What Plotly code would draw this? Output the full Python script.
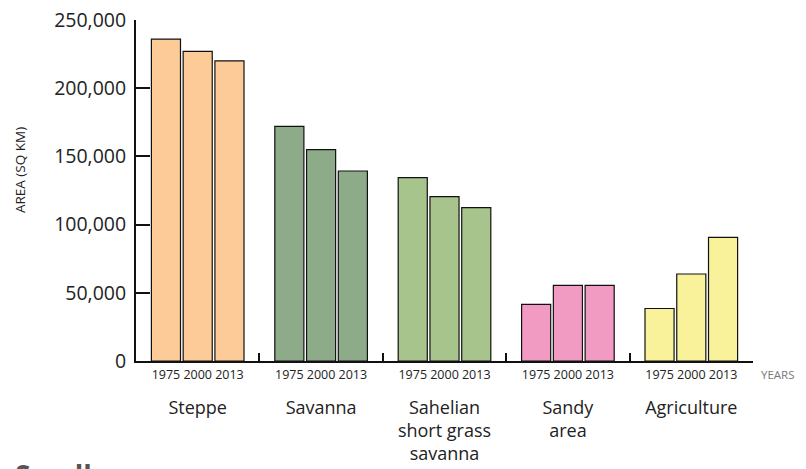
import plotly.graph_objects as go

categories = ["Steppe", "Savanna", "Sahelian<br>short grass<br>savanna", "Sandy<br>area", "Agriculture"]
years = ["1975", "2000", "2013"]
colors = ["#FCCB98", "#8DAB88", "#A8C48D", "#F29BC2", "#F9F29A"]

area_1975 = [236000, 172000, 134500, 41500, 38500]
area_2000 = [227000, 155000, 120500, 55500, 63800]
area_2013 = [220000, 139300, 112400, 55500, 90700]
series = [area_1975, area_2000, area_2013]

y_ticks = [0, 50000, 100000, 150000, 200000, 250000]

font = "Open Sans"
bargap = 0.228

fig = go.Figure()
for yr, vals in zip(years, series):
    fig.add_trace(go.Bar(
        x=categories, y=vals, name=yr,
        marker=dict(color=colors, line=dict(color="#111", width=1.2)),
        showlegend=False, hoverinfo="skip",
    ))

# year labels under each bar, on a second x axis sharing the same scale
n = len(years)
slot = (1 - bargap) / n
year_pos, year_txt = [], []
for i in range(len(categories)):
    for j, yr in enumerate(years):
        year_pos.append(i + (j - (n - 1) / 2) * slot)
        year_txt.append(yr)
fig.add_trace(go.Scatter(x=[-0.5, 4.5], y=[0, 0], xaxis="x2", mode="lines",
                         line=dict(width=0), showlegend=False, hoverinfo="skip"))

# page body has an 8px margin, so the figure is a bit smaller than the window
fig.update_layout(
    width=798, height=461,
    margin=dict(l=128, r=53, t=12, b=108),
    paper_bgcolor="white", plot_bgcolor="white",
    barmode="group", bargap=bargap, bargroupgap=0.084,
    font=dict(family=font, color="#222"),
    xaxis=dict(
        type="category", categoryarray=categories, range=[-0.5, 4.5],
        tickson="boundaries", ticks="inside", ticklen=8, tickwidth=2, tickcolor="#111",
        showline=True, linecolor="#111", linewidth=2, showgrid=False,
        tickfont=dict(size=18, color="#222"), ticklabelstandoff=29,
        automargin=False, ticklabeloverflow="allow",
    ),
    xaxis2=dict(
        overlaying="x", anchor="y", side="bottom", range=[-0.5, 4.5],
        tickmode="array", tickvals=year_pos, ticktext=year_txt,
        showline=False, showgrid=False, zeroline=False, ticks="",
        tickfont=dict(size=12.5, color="#222"), automargin=False,
        ticklabelstandoff=4,
    ),
    yaxis=dict(
        range=[0, 250000], tickvals=y_ticks, tickformat=",d",
        ticks="inside", ticklen=14, tickwidth=2, tickcolor="#111",
        showline=True, linecolor="#111", linewidth=2,
        showgrid=False, zeroline=False, automargin=False,
        ticklabeloverflow="allow", ticklabelstandoff=4,
        tickfont=dict(size=19.5, color="#222"),
    ),
    annotations=[
        dict(text="AREA (SQ KM)", xref="paper", yref="paper", x=-0.188, y=0.56,
             xanchor="center", yanchor="middle",
             textangle=-90, showarrow=False, font=dict(size=13.5, color="#222")),
        dict(text="YEARS", xref="paper", yref="paper", x=1.041, y=-0.041,
             xanchor="center", yanchor="middle",
             showarrow=False, font=dict(size=11.5, color="#777")),
        dict(text="<b>Small</b>", xref="paper", yref="paper", x=-0.199, y=-0.274,
             xanchor="left", yanchor="top", showarrow=False,
             font=dict(size=28, color="#555")),
    ],
)

fig.write_html("out.html")
